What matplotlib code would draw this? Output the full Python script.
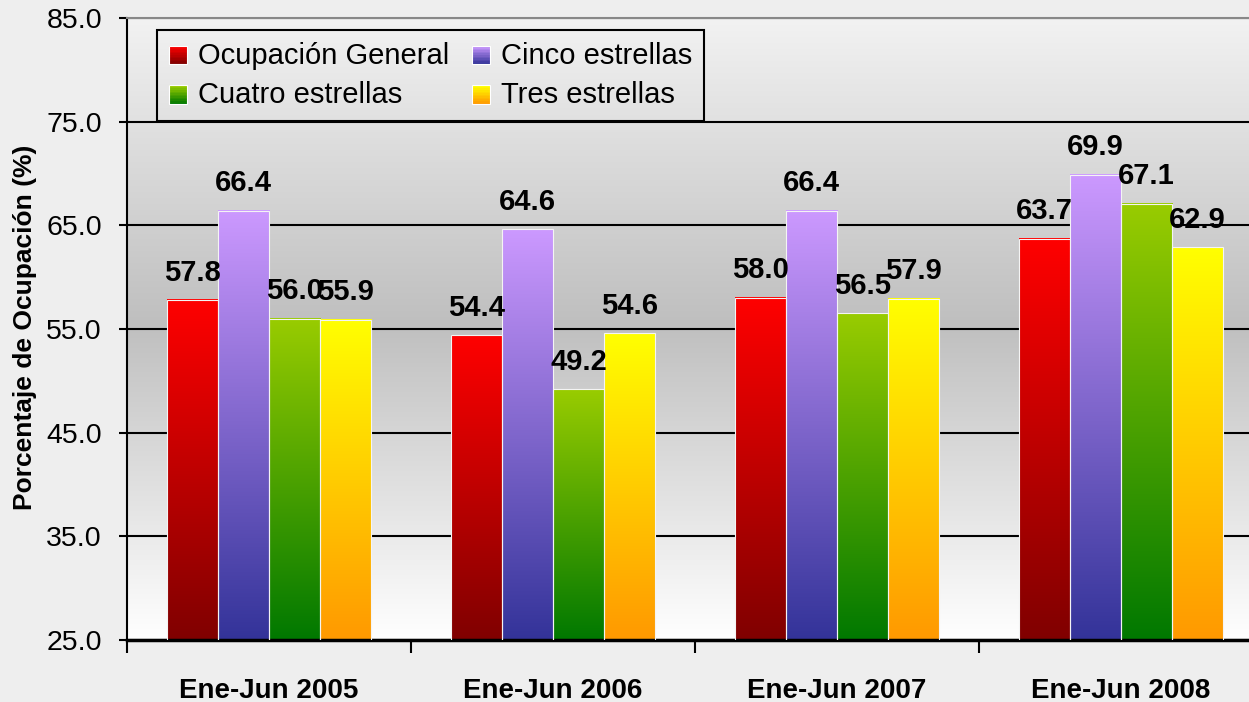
import matplotlib.pyplot as plt
import numpy as np
from matplotlib.colors import LinearSegmentedColormap
from matplotlib.legend_handler import HandlerBase
from matplotlib.patches import Rectangle

plt.rcParams['font.family'] = ['Liberation Sans', 'DejaVu Sans']

# Data
periodos = ['Ene-Jun 2005', 'Ene-Jun 2006', 'Ene-Jun 2007', 'Ene-Jun 2008']
series = ['Ocupación General', 'Cinco estrellas', 'Cuatro estrellas', 'Tres estrellas']
general = [57.8, 54.4, 58.0, 63.7]
cinco = [66.4, 64.6, 66.4, 69.9]
cuatro = [56.0, 49.2, 56.5, 67.1]
tres = [55.9, 54.6, 57.9, 62.9]
datos = [general, cinco, cuatro, tres]

# bar gradients (bottom, top)
grad = [('#800000', '#ff0000'), ('#333399', '#cc99ff'),
        ('#007800', '#99cc00'), ('#ff9900', '#ffff00')]
cmaps = [LinearSegmentedColormap.from_list(f'g{i}', g) for i, g in enumerate(grad)]

ymin, ymax = 25, 85
ramp = np.linspace(0, 1, 256).reshape(-1, 1)

fig = plt.figure(figsize=(12.49, 7.02), dpi=100)
fig.patch.set_facecolor('#eeeeee')
ax = fig.add_axes([127 / 1249, 62 / 702, 1136 / 1249, 622 / 702])

# plot area background gradient
bg = LinearSegmentedColormap.from_list('bg', [(0, '#ffffff'), (0.51, '#bfbfbf'), (1, '#f2f2f2')])
ax.imshow(ramp, cmap=bg, extent=[0, 1, 0, 1], transform=ax.transAxes,
          origin='lower', aspect='auto', zorder=0)

x = np.arange(len(periodos))
w = 0.18
offsets = (np.arange(len(series)) - 1.5) * w

for vals, cm, off in zip(datos, cmaps, offsets):
    bars = ax.bar(x + off, vals, w, facecolor='none', edgecolor='#f4f4f4', lw=0.8, zorder=3)
    for b, v in zip(bars, vals):
        x0 = b.get_x()
        ax.imshow(ramp, cmap=cm, extent=[x0, x0 + b.get_width(), ymin, v],
                  origin='lower', aspect='auto', zorder=2)
        ax.annotate(f'{v:.1f}', (x0 + b.get_width() / 2, v), xytext=(0, 14),
                    textcoords='offset points', ha='center', va='baseline',
                    fontsize=21, fontweight='bold', zorder=5)

ax.set_xlim(-0.5, 3.5)
ax.set_ylim(ymin, ymax)
ax.set_yticks(np.arange(ymin, ymax + 1, 10))
ax.set_yticklabels([f'{t:.1f}' for t in np.arange(ymin, ymax + 1, 10)])
ax.yaxis.grid(True, color='black', lw=1.5)
ax.set_axisbelow(True)
ax.tick_params(axis='y', labelsize=20.5, length=6, width=1.5, pad=12)

ax.set_xticks(x)
ax.set_xticklabels(periodos, fontsize=20, fontweight='bold')
ax.set_xticks(np.arange(-0.5, 4, 1), minor=True)
ax.tick_params(axis='x', which='major', length=0, pad=27)
ax.tick_params(axis='x', which='minor', length=9, width=1.5)

ax.spines['top'].set_color('#888888')
ax.spines['top'].set_linewidth(1.5)
ax.spines['left'].set_linewidth(1.5)
ax.spines['bottom'].set_linewidth(2.5)
ax.spines['right'].set_visible(False)

fig.text(0.02, 0.534, 'Porcentaje de Ocupación (%)', rotation=90, ha='center',
         va='center', fontsize=19, fontweight='bold')


class GradHandler(HandlerBase):
    def create_artists(self, legend, orig, xd, yd, width, height, fontsize, trans):
        cm = orig.cmap
        n = 12
        arts = []
        for i in range(n):
            r = Rectangle((xd, yd + height * i / n), width, height / n,
                          facecolor=cm(i / (n - 1)), edgecolor='none', transform=trans)
            arts.append(r)
        arts.append(Rectangle((xd, yd), width, height, facecolor='none',
                              edgecolor='white', lw=0.8, transform=trans))
        return arts


class Proxy:
    def __init__(self, cmap):
        self.cmap = cmap


proxies = [Proxy(c) for c in cmaps]
order = [0, 2, 1, 3]
leg = ax.legend([proxies[i] for i in order], [series[i] for i in order], ncol=2,
                handler_map={Proxy: GradHandler()}, loc='upper left',
                bbox_to_anchor=(0.0264, 0.9807), borderaxespad=0, fontsize=21,
                handlelength=0.62, handleheight=0.62, handletextpad=0.4,
                columnspacing=0.75, labelspacing=0.4, borderpad=0.4,
                fancybox=False, edgecolor='black', framealpha=1)
leg.get_frame().set_facecolor('none')
leg.get_frame().set_linewidth(1.5)
leg.set_zorder(6)

plt.savefig('out.png', dpi=100, facecolor=fig.get_facecolor())
